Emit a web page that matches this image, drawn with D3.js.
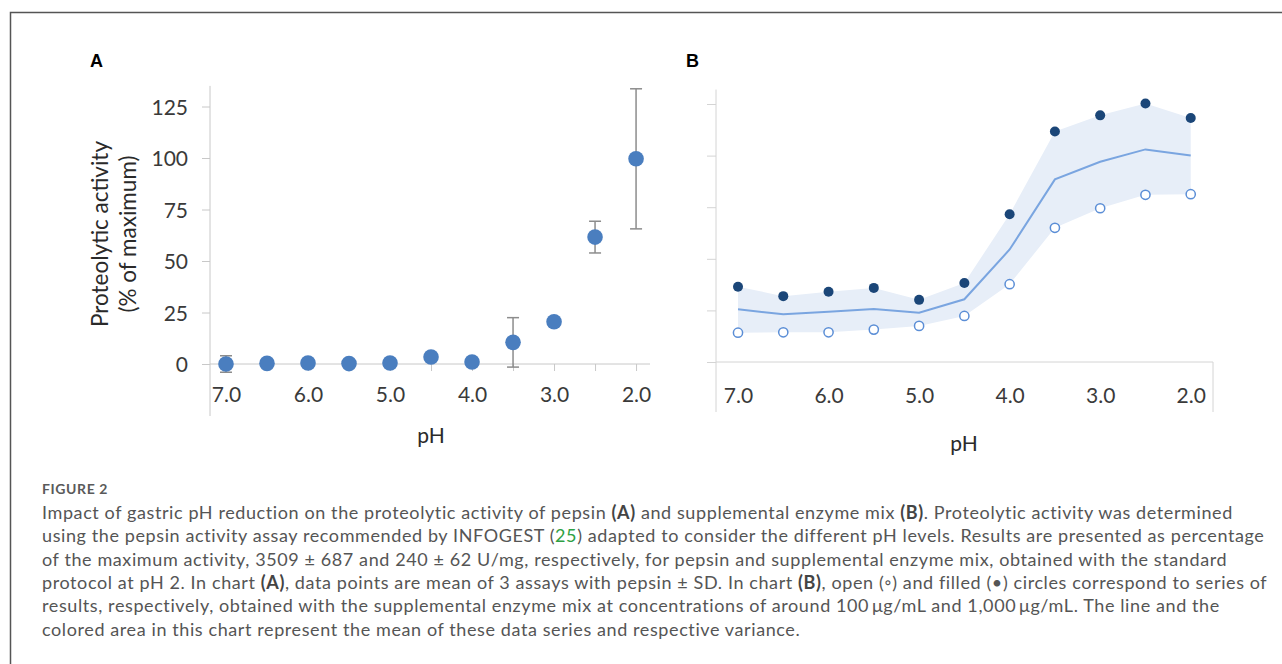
<!DOCTYPE html>
<html>
<head>
<meta charset="utf-8">
<script src="https://cdn.jsdelivr.net/npm/d3@7"></script>
<style>
  body { margin: 0; background: #fff; }
  svg { display: block; }
  .tick text { font-family: Lato, "Open Sans", sans-serif; fill: #3a3a3a; }
</style>
</head>
<body>
<svg id="fig" width="1282" height="664"></svg>
<script>
/* Figure 2: pepsin (A) and enzyme mix (B) activity vs pH */

// pH categories, shared by both charts
var phLevels = [7.0, 6.5, 6.0, 5.5, 5.0, 4.5, 4.0, 3.5, 3.0, 2.5, 2.0];

// chart A, pepsin mean and SD (% of maximum)
var pepsinMean = [0, 0.3, 0.5, 0.2, 0.5, 3.4, 1.0, 10.5, 20.5, 61.6, 99.6];
var pepsinSD = [4, 1, 1, 1, 1, 1, 1, 12, 2, 7.7, 34];

// chart B, enzyme mix series (% of maximum)
var mixHigh = [36.5, 31.9, 34.0, 35.9, 30.1, 38.3, 71.6, 111.7, 119.5, 125.2, 118.2]; // filled, ~1000 ug/mL
var mixLow = [14.2, 14.4, 14.4, 15.7, 17.5, 22.3, 37.7, 65.0, 74.5, 81.0, 81.3];      // open, ~100 ug/mL
var mixMean = [25.5, 23.1, 24.3, 25.7, 23.9, 30.4, 54.5, 88.5, 97.0, 103.0, 100.0];

var yTicks = [0, 25, 50, 75, 100, 125];
var xLabelTicks = [7.0, 6.0, 5.0, 4.0, 3.0, 2.0];

var captionLines = [
  [["Impact of gastric pH reduction on the proteolytic activity of pepsin "], ["(A)", "b"], [" and supplemental enzyme mix "], ["(B)", "b"], [". Proteolytic activity was determined"]],
  [["using the pepsin activity assay recommended by INFOGEST ("], ["25", "g"], [") adapted to consider the different pH levels. Results are presented as percentage"]],
  [["of the maximum activity, 3509 \u00b1 687 and 240 \u00b1 62 U/mg, respectively, for pepsin and supplemental enzyme mix, obtained with the standard"]],
  [["protocol at pH 2. In chart "], ["(A)", "b"], [", data points are mean of 3 assays with pepsin \u00b1 SD. In chart "], ["(B)", "b"], [", open (\u25e6) and filled (\u2022) circles correspond to series of"]],
  [["results, respectively, obtained with the supplemental enzyme mix at concentrations of around 100\u2009\u03bcg/mL and 1,000\u2009\u03bcg/mL. The line and the"]],
  [["colored area in this chart represent the mean of these data series and respective variance."]]
];

var svg = d3.select("#fig");
var font = "Lato, 'Open Sans', sans-serif";

// outer frame of the figure
svg.append("path")
  .attr("d", "M10.5,700 L10.5,12.5 L1290,12.5")
  .attr("fill", "none")
  .attr("stroke", "#555")
  .attr("stroke-width", 1.5);

// ---------- chart A ----------
var xA = d3.scaleLinear().domain([7.195, 1.83]).range([210, 650]);
var yA = d3.scaleLinear().domain([0, 125]).range([364, 106.5]);

var gA = svg.append("g");

gA.append("text")
  .attr("x", 90).attr("y", 67)
  .attr("font-family", "'Liberation Sans', Arial, sans-serif")
  .attr("font-weight", "bold").attr("font-size", 18)
  .text("A");

var yAxisA = gA.append("g")
  .attr("transform", "translate(210,0)")
  .call(d3.axisLeft(yA).tickValues(yTicks).tickSize(8).tickPadding(14));
yAxisA.select(".domain").remove();
yAxisA.selectAll(".tick line").attr("stroke", "#c8c8c8");
yAxisA.selectAll(".tick text").attr("font-size", 21).attr("dy", "0.36em");

// y axis line runs below the x axis, under the tick labels
gA.append("line")
  .attr("x1", 210).attr("x2", 210)
  .attr("y1", yA(135)).attr("y2", 416)
  .attr("stroke", "#c8c8c8");

var xAxisA = gA.append("g")
  .attr("transform", "translate(0," + yA(0) + ")")
  .call(d3.axisBottom(xA).tickValues(phLevels).tickSize(7).tickPadding(16)
    .tickFormat(function(d) { return xLabelTicks.indexOf(d) >= 0 ? d3.format(".1f")(d) : ""; }));
xAxisA.select(".domain").remove();
xAxisA.selectAll(".tick line").attr("stroke", "#c8c8c8");
xAxisA.selectAll(".tick text").attr("font-size", 21);

gA.append("line")
  .attr("x1", 210).attr("x2", 650)
  .attr("y1", yA(0)).attr("y2", yA(0))
  .attr("stroke", "#c8c8c8");

// error bars
var errA = gA.append("g").selectAll("g")
  .data(phLevels)
  .enter().append("g")
  .attr("stroke", "#8c8c8c")
  .attr("stroke-width", 1.5);
errA.append("line")
  .attr("x1", function(d) { return xA(d); })
  .attr("x2", function(d) { return xA(d); })
  .attr("y1", function(d, i) { return yA(pepsinMean[i] - pepsinSD[i]); })
  .attr("y2", function(d, i) { return yA(pepsinMean[i] + pepsinSD[i]); });
errA.append("line")
  .attr("x1", function(d) { return xA(d) - 6; })
  .attr("x2", function(d) { return xA(d) + 6; })
  .attr("y1", function(d, i) { return yA(pepsinMean[i] + pepsinSD[i]); })
  .attr("y2", function(d, i) { return yA(pepsinMean[i] + pepsinSD[i]); });
errA.append("line")
  .attr("x1", function(d) { return xA(d) - 6; })
  .attr("x2", function(d) { return xA(d) + 6; })
  .attr("y1", function(d, i) { return yA(pepsinMean[i] - pepsinSD[i]); })
  .attr("y2", function(d, i) { return yA(pepsinMean[i] - pepsinSD[i]); });

gA.append("g").selectAll("circle")
  .data(phLevels)
  .enter().append("circle")
  .attr("cx", function(d) { return xA(d); })
  .attr("cy", function(d, i) { return yA(pepsinMean[i]); })
  .attr("r", 7.8)
  .attr("fill", "#4a7ebf");

gA.append("text")
  .attr("transform", "translate(108,234) rotate(-90)")
  .attr("text-anchor", "middle")
  .attr("font-family", font).attr("font-size", 22.5).attr("fill", "#2a2a2a")
  .text("Proteolytic activity");
gA.append("text")
  .attr("transform", "translate(136,234) rotate(-90)")
  .attr("text-anchor", "middle")
  .attr("font-family", font).attr("font-size", 22.5).attr("fill", "#2a2a2a")
  .text("(% of maximum)");

gA.append("text")
  .attr("x", 431).attr("y", 443)
  .attr("text-anchor", "middle")
  .attr("font-family", font).attr("font-size", 21).attr("fill", "#2a2a2a")
  .text("pH");

// ---------- chart B ----------
var xB = d3.scaleLinear().domain([7.243, 1.754]).range([716, 1213]);
var yB = d3.scaleLinear().domain([0, 125]).range([362, 104]);

var gB = svg.append("g");

gB.append("text")
  .attr("x", 686).attr("y", 67)
  .attr("font-family", "'Liberation Sans', Arial, sans-serif")
  .attr("font-weight", "bold").attr("font-size", 18)
  .text("B");

var yAxisB = gB.append("g")
  .attr("transform", "translate(716,0)")
  .call(d3.axisLeft(yB).tickValues(yTicks).tickSize(9).tickFormat(""));
yAxisB.select(".domain").remove();
yAxisB.selectAll(".tick line").attr("stroke", "#d4d4d4");

gB.append("line")
  .attr("x1", 716).attr("x2", 716)
  .attr("y1", yB(132)).attr("y2", 412)
  .attr("stroke", "#d4d4d4");
gB.append("line")
  .attr("x1", 716).attr("x2", 1213)
  .attr("y1", yB(0)).attr("y2", yB(0))
  .attr("stroke", "#d4d4d4");
gB.append("line")
  .attr("x1", 1213).attr("x2", 1213)
  .attr("y1", yB(0)).attr("y2", 412)
  .attr("stroke", "#d4d4d4");

var xAxisB = gB.append("g")
  .attr("transform", "translate(0," + yB(0) + ")")
  .call(d3.axisBottom(xB).tickValues(xLabelTicks).tickSize(0).tickPadding(26)
    .tickFormat(d3.format(".1f")));
xAxisB.select(".domain").remove();
xAxisB.selectAll(".tick text").attr("font-size", 21);

// variance band and mean line
gB.append("path")
  .datum(phLevels)
  .attr("fill", "#e7eef8")
  .attr("d", d3.area()
    .x(function(d) { return xB(d); })
    .y0(function(d, i) { return yB(mixLow[i]); })
    .y1(function(d, i) { return yB(mixHigh[i]); }));

gB.append("path")
  .datum(phLevels)
  .attr("fill", "none")
  .attr("stroke", "#7aa5e0")
  .attr("stroke-width", 2)
  .attr("d", d3.line()
    .x(function(d) { return xB(d); })
    .y(function(d, i) { return yB(mixMean[i]); }));

gB.append("g").selectAll("circle")
  .data(phLevels)
  .enter().append("circle")
  .attr("cx", function(d) { return xB(d); })
  .attr("cy", function(d, i) { return yB(mixLow[i]); })
  .attr("r", 4.6)
  .attr("fill", "#fff")
  .attr("stroke", "#5b8ed6")
  .attr("stroke-width", 1.5);

gB.append("g").selectAll("circle")
  .data(phLevels)
  .enter().append("circle")
  .attr("cx", function(d) { return xB(d); })
  .attr("cy", function(d, i) { return yB(mixHigh[i]); })
  .attr("r", 5)
  .attr("fill", "#1b4678");

gB.append("text")
  .attr("x", 964).attr("y", 451)
  .attr("text-anchor", "middle")
  .attr("font-family", font).attr("font-size", 21).attr("fill", "#2a2a2a")
  .text("pH");

// ---------- caption ----------
svg.append("text")
  .attr("x", 42).attr("y", 494)
  .attr("font-family", font).attr("font-size", 14).attr("font-weight", "bold")
  .attr("letter-spacing", 0.6)
  .attr("fill", "#5a5a5a")
  .text("FIGURE 2");

var cap = svg.append("g")
  .attr("font-family", font).attr("font-size", 18).attr("fill", "#555")
  .attr("letter-spacing", 0.6);

captionLines.forEach(function(line, li) {
  var t = cap.append("text")
    .attr("x", 42).attr("y", 519 + li * 23.3);
  line.forEach(function(seg) {
    var s = t.append("tspan").text(seg[0]);
    if (seg[1] === "b") s.attr("font-weight", "bold").attr("fill", "#444");
    if (seg[1] === "g") s.attr("fill", "#2ea043");
  });
});
</script>
</body>
</html>
